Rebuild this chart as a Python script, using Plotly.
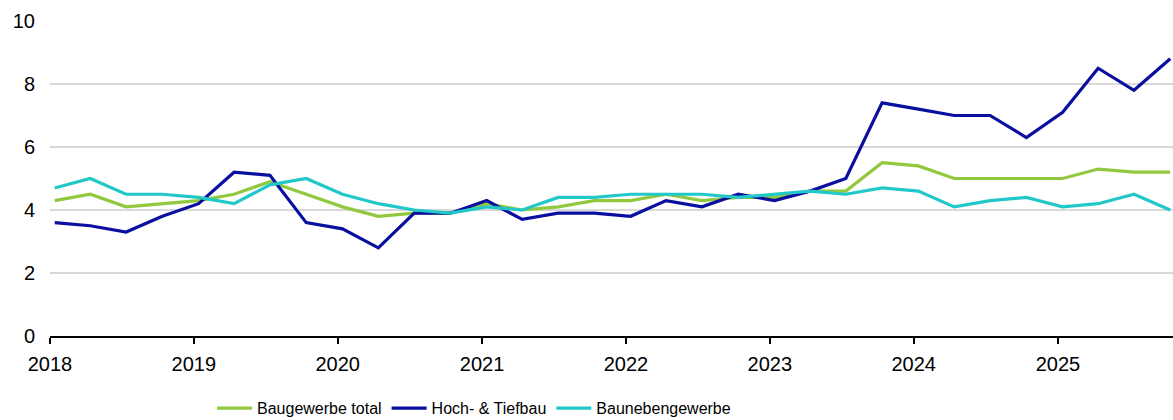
import pandas as pd
import plotly.graph_objects as go

quarters = pd.date_range("2018-01-01", periods=32, freq="QS") + pd.Timedelta(days=12)

baugewerbe_total = [4.3, 4.5, 4.1, 4.2, 4.3, 4.5, 4.9, 4.5, 4.1, 3.8,
                    3.9, 3.9, 4.2, 4.0, 4.1, 4.3, 4.3, 4.5, 4.3, 4.4,
                    4.4, 4.6, 4.6, 5.5, 5.4, 5.0, 5.0, 5.0, 5.0, 5.3, 5.2, 5.2]
hoch_tiefbau = [3.6, 3.5, 3.3, 3.8, 4.2, 5.2, 5.1, 3.6, 3.4, 2.8,
                3.9, 3.9, 4.3, 3.7, 3.9, 3.9, 3.8, 4.3, 4.1, 4.5,
                4.3, 4.6, 5.0, 7.4, 7.2, 7.0, 7.0, 6.3, 7.1, 8.5, 7.8, 8.8]
baunebengewerbe = [4.7, 5.0, 4.5, 4.5, 4.4, 4.2, 4.8, 5.0, 4.5, 4.2,
                   4.0, 3.9, 4.1, 4.0, 4.4, 4.4, 4.5, 4.5, 4.5, 4.4,
                   4.5, 4.6, 4.5, 4.7, 4.6, 4.1, 4.3, 4.4, 4.1, 4.2, 4.5, 4.0]

series_names = ["Baugewerbe total", "Hoch- & Tiefbau", "Baunebengewerbe"]
series_values = [baugewerbe_total, hoch_tiefbau, baunebengewerbe]
colors = ["#92C83E", "#0A0FA0", "#22C8C8"]

fig = go.Figure()
for name, vals, col in zip(series_names, series_values, colors):
    fig.add_trace(go.Scatter(x=quarters, y=vals, mode="lines", name=name,
                             line=dict(color=col, width=3.2)))

fig.update_layout(
    width=1173, height=420,
    margin=dict(l=50, r=0, t=21, b=84),
    plot_bgcolor="white", paper_bgcolor="white",
    font=dict(family="Liberation Sans, Arial, sans-serif", size=20, color="#000000"),
    showlegend=True,
    legend=dict(orientation="h", x=0.1443, xanchor="left",
                yref="container", y=0.028, yanchor="middle",
                font=dict(family="Liberation Sans, Arial", size=16),
                itemwidth=35, tracegroupgap=0),
)
fig.update_xaxes(
    type="date",
    range=[pd.Timestamp("2018-01-01"), pd.Timestamp("2025-10-20")],
    dtick="M12", tick0="2018-01-01", tickformat="%Y",
    showgrid=False, showline=True, linecolor="#000000", linewidth=2,
    ticks="outside", ticklen=6, tickwidth=1.5, tickcolor="#000000",
    zeroline=False, ticklabelstandoff=3,
)
fig.update_yaxes(
    range=[0, 10], dtick=2, showgrid=True, gridcolor="#D9D9D9", gridwidth=1.5,
    zeroline=False, showline=False, ticks="", ticklabelstandoff=14,
)

fig.write_html("out.html", config={"displayModeBar": False},
               post_script="document.body.style.margin='0';")
